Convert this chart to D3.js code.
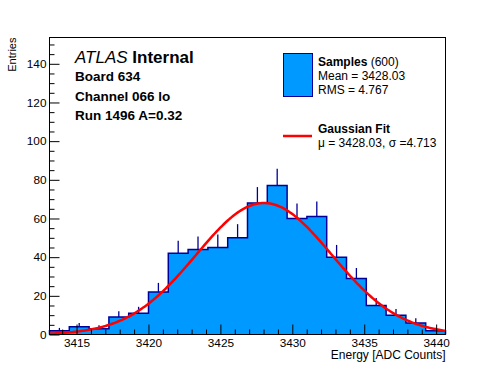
<!DOCTYPE html>
<html>
<head>
<meta charset="utf-8">
<script src="https://cdn.jsdelivr.net/npm/d3@7"></script>
<style>
  body { margin: 0; background: #fff; }
  svg text { font-family: "Liberation Sans", Arial, Helvetica, sans-serif; }
</style>
</head>
<body>
<div id="chart"></div>
<script>
// Histogram range and counts (20 bins)
const histMin = 3413.12;
const histMax = 3440.65;
const counts = [2, 4, 3, 9, 11, 22, 42, 44, 45, 50, 68, 77, 60, 61, 40, 29, 15, 10, 6, 2];

// Gaussian fit parameters
const fitMean = 3428.03;
const fitSigma = 4.713;
const fitAmp = 68;

// Axis ticks
const xMajor = [3415, 3420, 3425, 3430, 3435, 3440];
const yMajor = [0, 20, 40, 60, 80, 100, 120, 140];
const yMax = 153.6;

const W = 496, H = 372;
const padL = 49.5, padR = 445.5, padT = 37.5, padB = 334.5;

const svg = d3.select("#chart").append("svg")
    .attr("width", W)
    .attr("height", H);

const x = d3.scaleLinear().domain([histMin, histMax]).range([padL, padR]);
const y = d3.scaleLinear().domain([0, yMax]).range([padB, padT]);

const binW = (histMax - histMin) / counts.length;
const bins = counts.map((c, i) => ({ x0: histMin + i * binW, x1: histMin + (i + 1) * binW, n: c }));

// step shape of the histogram
const step = [[histMin, 0]];
bins.forEach(d => { step.push([d.x0, d.n]); step.push([d.x1, d.n]); });
step.push([histMax, 0]);
const stepLine = d3.line().x(d => x(d[0])).y(d => y(d[1]));

// fill as one shape (no seams between bins)
svg.append("path")
    .datum(step)
    .attr("d", stepLine)
    .attr("fill", "#0099ff")
    .attr("stroke", "none");

// error bars (upper half only visible)
svg.append("g").selectAll("line")
    .data(bins)
    .enter()
    .append("line")
    .attr("x1", d => x((d.x0 + d.x1) / 2))
    .attr("x2", d => x((d.x0 + d.x1) / 2))
    .attr("y1", d => y(d.n))
    .attr("y2", d => y(d.n + Math.sqrt(d.n)))
    .attr("stroke", "#000099")
    .attr("stroke-width", 1.3);

// outline
svg.append("path")
    .datum(step)
    .attr("d", stepLine)
    .attr("fill", "none")
    .attr("stroke", "#000099")
    .attr("stroke-width", 1.5);

// gaussian fit
const fitPts = d3.range(0, 301).map(i => {
    const xv = histMin + (histMax - histMin) * i / 300;
    return [xv, fitAmp * Math.exp(-Math.pow(xv - fitMean, 2) / (2 * fitSigma * fitSigma))];
});
svg.append("path")
    .datum(fitPts)
    .attr("d", d3.line().x(d => x(d[0])).y(d => y(d[1])))
    .attr("fill", "none")
    .attr("stroke", "#ff0000")
    .attr("stroke-width", 2.5);

// axes
const xMinor = d3.range(3414, 3441, 1).filter(v => !xMajor.includes(v));
svg.append("g")
    .attr("transform", `translate(0,${padB})`)
    .call(d3.axisBottom(x).tickValues(xMinor).tickSize(-5).tickFormat(""))
    .call(g => g.select(".domain").remove());
const xAxis = svg.append("g")
    .attr("transform", `translate(0,${padB})`)
    .call(d3.axisBottom(x).tickValues(xMajor).tickSize(-10).tickPadding(4).tickFormat(d3.format("d")))
    .call(g => g.select(".domain").remove());
xAxis.selectAll("text").attr("font-size", 11.8).attr("fill", "#000");

const yMinor = d3.range(5, 155, 5).filter(v => !yMajor.includes(v));
svg.append("g")
    .attr("transform", `translate(${padL},0)`)
    .call(d3.axisLeft(y).tickValues(yMinor).tickSize(-5).tickFormat(""))
    .call(g => g.select(".domain").remove());
const yAxis = svg.append("g")
    .attr("transform", `translate(${padL},0)`)
    .call(d3.axisLeft(y).tickValues(yMajor).tickSize(-10).tickPadding(3).tickFormat(d3.format("d")))
    .call(g => g.select(".domain").remove());
yAxis.selectAll("text").attr("font-size", 11.8).attr("fill", "#000");

// frame
svg.append("rect")
    .attr("x", padL).attr("y", padT)
    .attr("width", padR - padL).attr("height", padB - padT)
    .attr("fill", "none").attr("stroke", "#000").attr("stroke-width", 1);

// axis titles
svg.append("text")
    .attr("x", padR).attr("y", 359)
    .attr("text-anchor", "end")
    .attr("font-size", 12)
    .text("Energy [ADC Counts]");
svg.append("text")
    .attr("transform", `translate(16,${padT}) rotate(-90)`)
    .attr("text-anchor", "end")
    .attr("font-size", 11)
    .text("Entries");

// ATLAS label
const atlas = svg.append("text").attr("x", 75).attr("y", 63).attr("font-size", 17);
atlas.append("tspan").attr("font-style", "italic").text("ATLAS");
atlas.append("tspan").attr("font-weight", "bold").text(" Internal");
const infoLines = ["Board 634", "Channel 066 lo", "Run 1496 A=0.32"];
svg.append("g").selectAll("text")
    .data(infoLines)
    .enter()
    .append("text")
    .attr("x", 75)
    .attr("y", (d, i) => 81 + i * 19.5)
    .attr("font-size", 13.5)
    .attr("font-weight", "bold")
    .text(d => d);

// legend
svg.append("rect")
    .attr("x", 283.5).attr("y", 53.5).attr("width", 29).attr("height", 43)
    .attr("fill", "#0099ff").attr("stroke", "#000099").attr("stroke-width", 1);
const l1 = svg.append("text").attr("x", 318).attr("y", 66).attr("font-size", 12);
l1.append("tspan").attr("font-weight", "bold").text("Samples");
l1.append("tspan").text(" (600)");
svg.append("text").attr("x", 318).attr("y", 80).attr("font-size", 12).text("Mean = 3428.03");
svg.append("text").attr("x", 318).attr("y", 94).attr("font-size", 12).text("RMS = 4.767");

svg.append("line")
    .attr("x1", 283).attr("x2", 312).attr("y1", 136).attr("y2", 136)
    .attr("stroke", "#ff0000").attr("stroke-width", 2.5);
svg.append("text").attr("x", 318).attr("y", 133).attr("font-size", 12)
    .attr("font-weight", "bold").text("Gaussian Fit");
svg.append("text").attr("x", 318).attr("y", 147).attr("font-size", 12)
    .text("\u03bc = 3428.03, \u03c3 =4.713");
</script>
</body>
</html>
